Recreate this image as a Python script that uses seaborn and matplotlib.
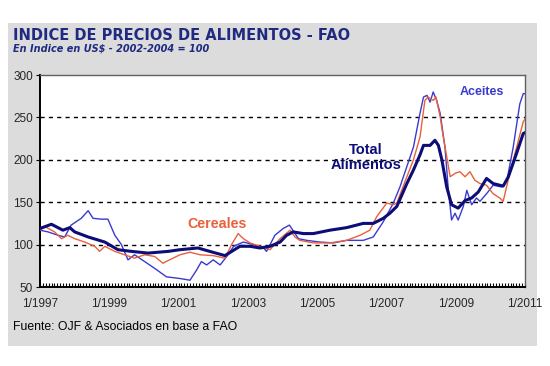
import numpy as np
import pandas as pd
import matplotlib
matplotlib.use("Agg")
import matplotlib.pyplot as plt
from matplotlib.patches import Rectangle
from matplotlib.ticker import MultipleLocator, FixedLocator
import seaborn as sns

# FAO food price index (x in decimal years)
total_x = [1997.0, 1997.33, 1997.66, 1997.86, 1998.0, 1998.39, 1998.87, 1999.25, 1999.64, 2000.12,
           2000.7, 2001.04, 2001.56, 2001.9, 2002.34, 2002.77, 2003.06, 2003.35, 2003.64, 2003.93,
           2004.12, 2004.31, 2004.6, 2004.89, 2005.37, 2005.85, 2006.33, 2006.62, 2006.91, 2007.1,
           2007.3, 2007.59, 2007.78, 2007.97, 2008.07, 2008.26, 2008.4, 2008.5, 2008.6, 2008.74,
           2008.88, 2009.07, 2009.27, 2009.46, 2009.65, 2009.89, 2010.08, 2010.37, 2010.52, 2010.76,
           2010.95, 2011.0]
total_y = [119, 124, 117, 120, 115, 109, 103, 94, 92, 90,
           92, 94, 96, 92, 87, 98, 98, 96, 98, 103,
           111, 115, 113, 113, 117, 120, 125, 125, 131, 137,
           145, 172, 188, 206, 217, 217, 223, 217, 200, 168,
           147, 143, 152, 155, 162, 178, 172, 169, 180, 208,
           231, 232]

cer_x = [1997.0, 1997.15, 1997.42, 1997.62, 1997.8, 1998.0, 1998.29, 1998.58, 1998.72, 1998.87,
         1999.16, 1999.44, 1999.73, 2000.02, 2000.31, 2000.55, 2000.64, 2001.04, 2001.33, 2001.62,
         2002.0, 2002.34, 2002.53, 2002.72, 2002.87, 2003.06, 2003.35, 2003.64, 2003.93, 2004.22,
         2004.36, 2004.5, 2004.89, 2005.37, 2005.85, 2006.24, 2006.52, 2006.72, 2007.01, 2007.2,
         2007.3, 2007.59, 2007.78, 2007.97, 2008.11, 2008.2, 2008.35, 2008.43, 2008.55, 2008.64,
         2008.74, 2008.84, 2008.98, 2009.12, 2009.27, 2009.41, 2009.55, 2009.7, 2009.89, 2010.08,
         2010.27, 2010.37, 2010.56, 2010.76, 2010.95, 2011.0]
cer_y = [117, 121, 115, 107, 111, 107, 103, 98, 92, 98,
         92, 88, 84, 88, 86, 78, 80, 88, 91, 88,
         87, 84, 100, 113, 107, 102, 98, 94, 107, 117,
         109, 105, 102, 102, 105, 111, 117, 133, 149, 147,
         149, 180, 200, 227, 270, 274, 270, 274, 251, 227,
         204, 180, 184, 186, 180, 186, 176, 172, 170, 160,
         155, 151, 184, 215, 245, 248]

oil_x = [1997.0, 1997.23, 1997.52, 1997.71, 1997.9, 1998.19, 1998.39, 1998.53, 1998.77, 1998.96,
         1999.16, 1999.35, 1999.54, 1999.73, 2000.02, 2000.31, 2000.65, 2001.04, 2001.33, 2001.52,
         2001.66, 2001.81, 2002.0, 2002.2, 2002.39, 2002.59, 2002.87, 2003.16, 2003.45, 2003.54,
         2003.78, 2004.02, 2004.2, 2004.46, 2004.7, 2005.08, 2005.47, 2005.85, 2006.33, 2006.62,
         2006.91, 2007.2, 2007.39, 2007.78, 2007.97, 2008.07, 2008.17, 2008.26, 2008.35, 2008.45,
         2008.55, 2008.69, 2008.78, 2008.88, 2008.98, 2009.07, 2009.22, 2009.32, 2009.46, 2009.6,
         2009.7, 2009.89, 2010.08, 2010.32, 2010.47, 2010.66, 2010.85, 2010.95, 2011.0]
oil_y = [117, 115, 111, 109, 123, 131, 140, 131, 130, 130,
         111, 100, 82, 88, 80, 72, 62, 60, 58, 70,
         80, 76, 82, 76, 86, 98, 103, 100, 96, 92,
         111, 119, 123, 107, 105, 103, 102, 105, 105, 109,
         127, 149, 168, 215, 255, 274, 276, 268, 280, 270,
         255, 215, 168, 129, 137, 129, 145, 164, 147, 155,
         151, 160, 170, 168, 174, 215, 266, 278, 278]

x_ticks = [1997, 1999, 2001, 2003, 2005, 2007, 2009, 2011]
x_labels = ["1/1997", "1/1999", "1/2001", "1/2003", "1/2005", "1/2007", "1/2009", "1/2011"]
y_ticks = [50, 100, 150, 200, 250, 300]

navy = "#0d0d78"
orange = "#e8603c"
blue = "#3a3ad0"

sns.set_style("white")
plt.rcParams["font.family"] = ["Liberation Sans", "DejaVu Sans"]

fig = plt.figure(figsize=(5.5, 3.66), dpi=100)
fig.patch.set_facecolor("white")
fig.patches.append(Rectangle((8 / 550, 1 - 346 / 366), 529 / 550, 323 / 366,
                             transform=fig.transFigure, facecolor="#dcdcdc",
                             edgecolor="none", zorder=0))

ax = fig.add_axes([40 / 550, 1 - 287 / 366, 485 / 550, 212 / 366])
ax.set_zorder(2)
ax.set_facecolor("white")

oil = pd.DataFrame({"fecha": oil_x, "indice": oil_y})
cer = pd.DataFrame({"fecha": cer_x, "indice": cer_y})
tot = pd.DataFrame({"fecha": total_x, "indice": total_y})

sns.lineplot(data=oil, x="fecha", y="indice", ax=ax, color=blue, lw=1.0, zorder=3)
sns.lineplot(data=cer, x="fecha", y="indice", ax=ax, color=orange, lw=1.0, zorder=4)
sns.lineplot(data=tot, x="fecha", y="indice", ax=ax, color=navy, lw=2.2, zorder=5)

ax.set_xlim(1997, 2011)
ax.set_ylim(50, 300)
ax.set_xlabel("")
ax.set_ylabel("")

for v in [100, 150, 200, 250]:
    ax.axhline(v, color="black", lw=1.0, ls=(0, (3, 3)), zorder=2)

ax.xaxis.set_major_locator(FixedLocator(x_ticks))
ax.set_xticklabels(x_labels)
ax.xaxis.set_minor_locator(MultipleLocator(1 / 12))
ax.set_yticks(y_ticks)
ax.tick_params(axis="x", which="both", direction="in", length=3, width=0.8,
               color="black", labelsize=8.5, pad=8, bottom=True)
ax.tick_params(axis="y", which="major", direction="out", length=3, width=0.8,
               color="black", labelsize=8.5, pad=2, left=True)

for s in ["left", "bottom"]:
    ax.spines[s].set_color("black")
    ax.spines[s].set_linewidth(1.4)
for s in ["top", "right"]:
    ax.spines[s].set_color("#606060")
    ax.spines[s].set_linewidth(1.0)

ax.text(2002.1, 124, "Cereales", color=orange, fontsize=10.3, fontweight="bold",
        ha="center", va="center")
ax.text(2006.4, 203, "Total\nAlímentos", color=navy, fontsize=10.5, fontweight="bold",
        ha="center", va="center", linespacing=1.05)
ax.text(2009.76, 280, "Aceites", color=blue, fontsize=9, fontweight="bold",
        ha="center", va="center")

fig.text(13 / 550, 1 - 35 / 366, "INDICE DE PRECIOS DE ALIMENTOS - FAO", color="#1f2a80",
         fontsize=10.5, fontweight="bold", family=["DejaVu Sans"], va="center", ha="left")
fig.text(13 / 550, 1 - 48.5 / 366, "En Indice en US$ - 2002-2004 = 100", color="#1f2a80",
         fontsize=7, fontstyle="italic", fontweight="bold", family=["DejaVu Sans"],
         va="center", ha="left")
fig.text(13 / 550, 1 - 327 / 366, "Fuente: OJF & Asociados en base a FAO", color="black",
         fontsize=8.8, va="center", ha="left")

fig.savefig("out.png", dpi=100)
